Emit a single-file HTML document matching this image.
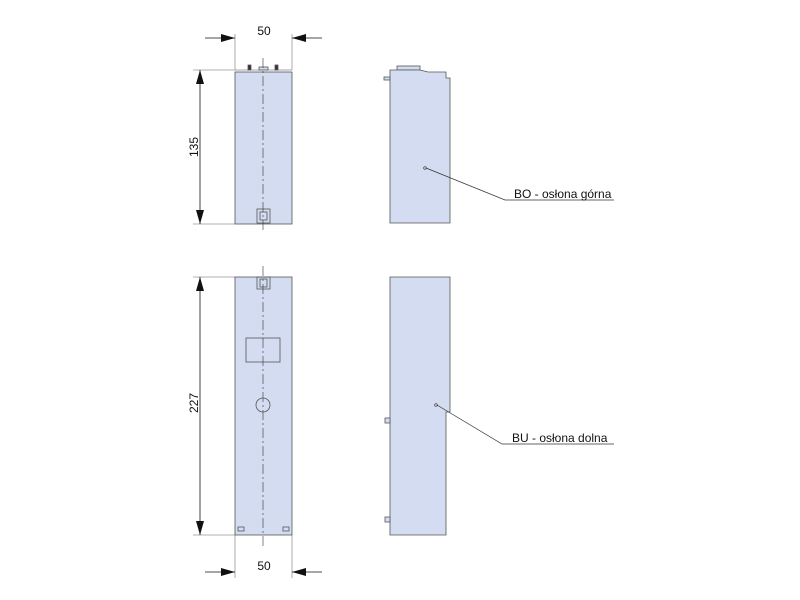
<!DOCTYPE html>
<html><head><style>body{margin:0;background:#fff}svg{display:block}</style></head><body>
<svg width="800" height="600" viewBox="0 0 800 600" xmlns="http://www.w3.org/2000/svg" font-family="Liberation Sans, sans-serif">
<defs>
<marker id="a" viewBox="0 0 14 8" refX="14" refY="4" markerWidth="14" markerHeight="8" orient="auto" markerUnits="userSpaceOnUse"><path d="M0,0L14,4L0,8z" fill="#111"/></marker>
</defs>
<g stroke="#999" stroke-width="0.8" fill="none">
<line x1="235" y1="34" x2="235" y2="70"/><line x1="292" y1="34" x2="292" y2="70"/>
<line x1="193" y1="70" x2="235" y2="70"/><line x1="193" y1="224" x2="235" y2="224"/>
<line x1="193" y1="277" x2="235" y2="277"/><line x1="193" y1="535" x2="235" y2="535"/>
<line x1="235" y1="535" x2="235" y2="578"/><line x1="292" y1="535" x2="292" y2="578"/>
</g>
<g stroke="#111" stroke-width="0.8" fill="none">
<line x1="205" y1="38" x2="235" y2="38" marker-end="url(#a)"/>
<line x1="322" y1="38" x2="292" y2="38" marker-end="url(#a)"/>
<line x1="200" y1="147" x2="200" y2="70" marker-end="url(#a)"/>
<line x1="200" y1="147" x2="200" y2="224" marker-end="url(#a)"/>
<line x1="200" y1="406" x2="200" y2="277" marker-end="url(#a)"/>
<line x1="200" y1="406" x2="200" y2="535" marker-end="url(#a)"/>
<line x1="205" y1="572" x2="235" y2="572" marker-end="url(#a)"/>
<line x1="322" y1="572" x2="292" y2="572" marker-end="url(#a)"/>
</g>
<g fill="#111" font-size="12">
<text x="264" y="35" text-anchor="middle">50</text>
<text x="264" y="570" text-anchor="middle">50</text>
<text transform="translate(198,147) rotate(-90)" text-anchor="middle">135</text>
<text transform="translate(198,403) rotate(-90)" text-anchor="middle">227</text>
</g>
<g stroke="#555" stroke-width="0.8">
<rect x="235" y="72" width="57" height="152" fill="#d3dcf0"/>
<line x1="235" y1="70" x2="292" y2="70" stroke="#888"/>
<rect x="248" y="65" width="3" height="5" fill="#333"/>
<rect x="275" y="65" width="3" height="5" fill="#333"/>
<rect x="259" y="67" width="9" height="3" fill="#d3dcf0"/>
<rect x="257" y="209" width="13" height="14" fill="none"/>
<rect x="260" y="212" width="7" height="8" fill="none"/>
<rect x="235" y="277" width="57" height="258" fill="#d3dcf0"/>
<rect x="257" y="277" width="13" height="12" fill="none"/>
<rect x="260" y="279" width="7" height="8" fill="none"/>
<rect x="246" y="338" width="34" height="24" fill="none"/>
<circle cx="263" cy="405" r="7" fill="none"/>
<rect x="238" y="527" width="6" height="4" fill="none"/>
<rect x="283" y="527" width="6" height="4" fill="none"/>
</g>
<g stroke="#333" stroke-width="0.6" stroke-dasharray="10,3,2,3">
<line x1="263" y1="58" x2="263" y2="232"/>
<line x1="263" y1="266" x2="263" y2="548"/>
</g>
<g stroke="#555" stroke-width="0.8" fill="#d3dcf0">
<rect x="397" y="66" width="23" height="4"/>
<path d="M390,70 L420,70 L428,72 L446,72 L446,78 L450,78 L450,223 L390,223 Z"/>
<rect x="384" y="77" width="6" height="3"/>
<path d="M390,277 L450,277 L450,412 L446,412 L446,535 L390,535 Z"/>
<rect x="385" y="418" width="5" height="5"/>
<rect x="385" y="517" width="5" height="5"/>
</g>
<g stroke="#333" stroke-width="0.7" fill="none">
<circle cx="425" cy="168" r="1.3"/>
<polyline points="426,168 505,200 614,200"/>
<circle cx="436" cy="405" r="1.3"/>
<polyline points="437,405 502,444 614,444"/>
</g>
<g fill="#111" font-size="12">
<text x="514" y="198">BO - osłona górna</text>
<text x="512" y="442">BU - osłona dolna</text>
</g>
</svg>
</body></html>
